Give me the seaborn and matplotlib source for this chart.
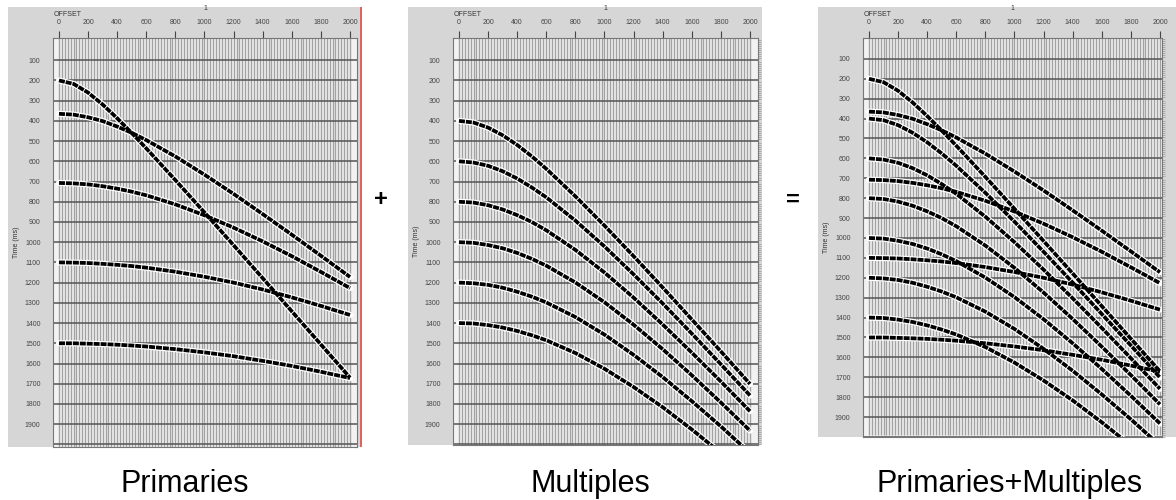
import matplotlib
matplotlib.use("Agg")
import matplotlib.pyplot as plt
import seaborn as sns

sns.set_style("white")
plt.rcParams['font.family'] = ['Liberation Sans', 'DejaVu Sans']

# Source-receiver offsets (m) at which event times were picked
offsets = [0, 100, 200, 300, 400, 500, 600, 800, 1000, 1200, 1400, 1600, 1800, 2000]

# Primary reflections: two-way time (ms) at each offset
primary_200 = [200, 217, 260, 319, 387, 460, 536, 693, 853, 1015, 1178, 1342, 1506, 1670]
primary_365 = [365, 369, 382, 401, 428, 459, 495, 576, 666, 761, 861, 963, 1067, 1172]
primary_707 = [707, 709, 714, 723, 735, 750, 768, 813, 867, 928, 996, 1069, 1147, 1227]
primary_1100 = [1100, 1101, 1103, 1107, 1112, 1118, 1126, 1146, 1171, 1200, 1234, 1273, 1315, 1360]
primary_1500 = [1500, 1500, 1502, 1504, 1507, 1511, 1516, 1529, 1545, 1564, 1587, 1612, 1641, 1672]

# Multiple reflections: two-way time (ms) at each offset
multiple_400 = [400, 408, 433, 471, 519, 575, 637, 773, 918, 1069, 1224, 1382, 1540, 1701]
multiple_600 = [600, 606, 622, 649, 685, 729, 778, 893, 1021, 1159, 1303, 1452, 1604, 1758]
multiple_800 = [800, 804, 817, 838, 866, 900, 941, 1038, 1150, 1274, 1407, 1546, 1689, 1836]
multiple_1000 = [1000, 1003, 1014, 1030, 1053, 1082, 1116, 1199, 1297, 1408, 1529, 1658, 1793, 1932]
multiple_1200 = [1200, 1203, 1211, 1225, 1245, 1269, 1298, 1370, 1457, 1557, 1667, 1786, 1911, 2043]
multiple_1400 = [1400, 1402, 1410, 1422, 1439, 1460, 1485, 1548, 1626, 1716, 1816, 1926, 2043, 2166]

primaries = [primary_200, primary_365, primary_707, primary_1100, primary_1500]
multiples = [multiple_400, multiple_600, multiple_800, multiple_1000,
             multiple_1200, multiple_1400]

# Trace positions and axis labelling
trace_offsets = list(range(0, 2001, 20))
offset_ticks = [0, 200, 400, 600, 800, 1000, 1200, 1400, 1600, 1800, 2000]
time_ticks = [100, 200, 300, 400, 500, 600, 700, 800, 900, 1000,
              1100, 1200, 1300, 1400, 1500, 1600, 1700, 1800, 1900]
grid_times = time_ticks + [2000]

W, H = 1176, 500
fig = plt.figure(figsize=(W / 100, H / 100), dpi=100)
fig.patch.set_facecolor("white")


def rect(x0, y0, x1, y1):
    return [x0 / W, 1 - y1 / H, (x1 - x0) / W, (y1 - y0) / H]


def draw_gather(frame, plot, xlim, ylim, events, red_edge=False, right_ruler=True):
    # grey window frame behind the section
    bg = fig.add_axes(rect(*frame))
    bg.set_facecolor("#d6d6d6")
    bg.set_xticks([])
    bg.set_yticks([])
    for s in bg.spines.values():
        s.set_visible(False)
    if red_edge:
        bg.axvline(0.997, color="#e06060", lw=1.4)

    ax = fig.add_axes(rect(*plot))
    ax.set_facecolor("#f2f2f2")
    ax.set_xlim(*xlim)
    ax.set_ylim(*ylim)

    # traces
    ax.vlines(trace_offsets, ylim[1], ylim[0], color="#a2a2a2", lw=1.0, zorder=1)
    # timing lines
    ax.hlines(grid_times, xlim[0], xlim[1], color="#555555", lw=1.1, zorder=2)

    # reflection events
    for times in events:
        sns.lineplot(x=offsets, y=times, ax=ax, color="white", lw=4.4,
                     sort=False, estimator=None, zorder=3)
        line = sns.lineplot(x=offsets, y=times, ax=ax, color="black", lw=2.7,
                            sort=False, estimator=None, zorder=4)
        line.lines[-1].set_dashes([1.6, 0.25])

    ax.set_xlabel("")
    ax.set_ylabel("")
    ax.xaxis.tick_top()
    ax.set_xticks(offset_ticks)
    ax.set_xticklabels([str(v) for v in offset_ticks], fontsize=5, color="#333333")
    ax.tick_params(axis="x", direction="out", length=5, width=0.8,
                   colors="#444444", pad=4)
    ax.set_yticks(time_ticks)
    ax.set_yticklabels([str(v) for v in time_ticks], fontsize=5, color="#333333")
    ax.set_yticks(list(range(0, 2001, 10)), minor=True)
    ax.tick_params(axis="y", which="major", direction="out", length=4,
                   width=0.8, colors="#444444", pad=5)
    ax.tick_params(axis="y", which="minor", direction="out", length=2.5,
                   width=0.4, colors="#8a8a8a", right=right_ruler)
    for s in ax.spines.values():
        s.set_color("#777777")
        s.set_linewidth(0.8)

    px0, py0, px1, py1 = plot
    fx0, fy0, fx1, fy1 = frame
    fig.text((px0 + 1) / W, 1 - 15 / H, "OFFSET", fontsize=5, color="#333333",
             ha="left", va="center")
    fig.text((px0 + px1) / 2 / W, 1 - 8 / H, "1", fontsize=5, color="#333333",
             ha="center", va="center")
    fig.text((fx0 + 9) / W, 1 - ((py0 + py1) / 2) / H, "Time (ms)", fontsize=5,
             color="#333333", rotation=90, ha="center", va="center")
    return ax


draw_gather((8, 7, 362, 447), (53, 38, 357, 447), (-41, 2048), (2013, -10),
            primaries, red_edge=True, right_ruler=False)
draw_gather((408, 7, 762, 445), (453, 38, 758, 445), (-41, 2055), (2003, -10),
            multiples)
draw_gather((818, 7, 1176, 437), (863, 38, 1162, 437), (-41, 2014), (1990, -5),
            primaries + multiples)

# captions and operators
fig.text(185 / W, 1 - 484 / H, "Primaries", fontsize=22, color="black",
         ha="center", va="center")
fig.text(590 / W, 1 - 484 / H, "Multiples", fontsize=22, color="black",
         ha="center", va="center")
fig.text(1010 / W, 1 - 484 / H, "Primaries+Multiples", fontsize=22, color="black",
         ha="center", va="center")
fig.text(381 / W, 1 - 200 / H, "+", fontsize=17, fontweight="bold", color="black",
         ha="center", va="center")
fig.text(793 / W, 1 - 200 / H, "=", fontsize=17, fontweight="bold", color="black",
         ha="center", va="center")

fig.savefig("out.png", dpi=100)
